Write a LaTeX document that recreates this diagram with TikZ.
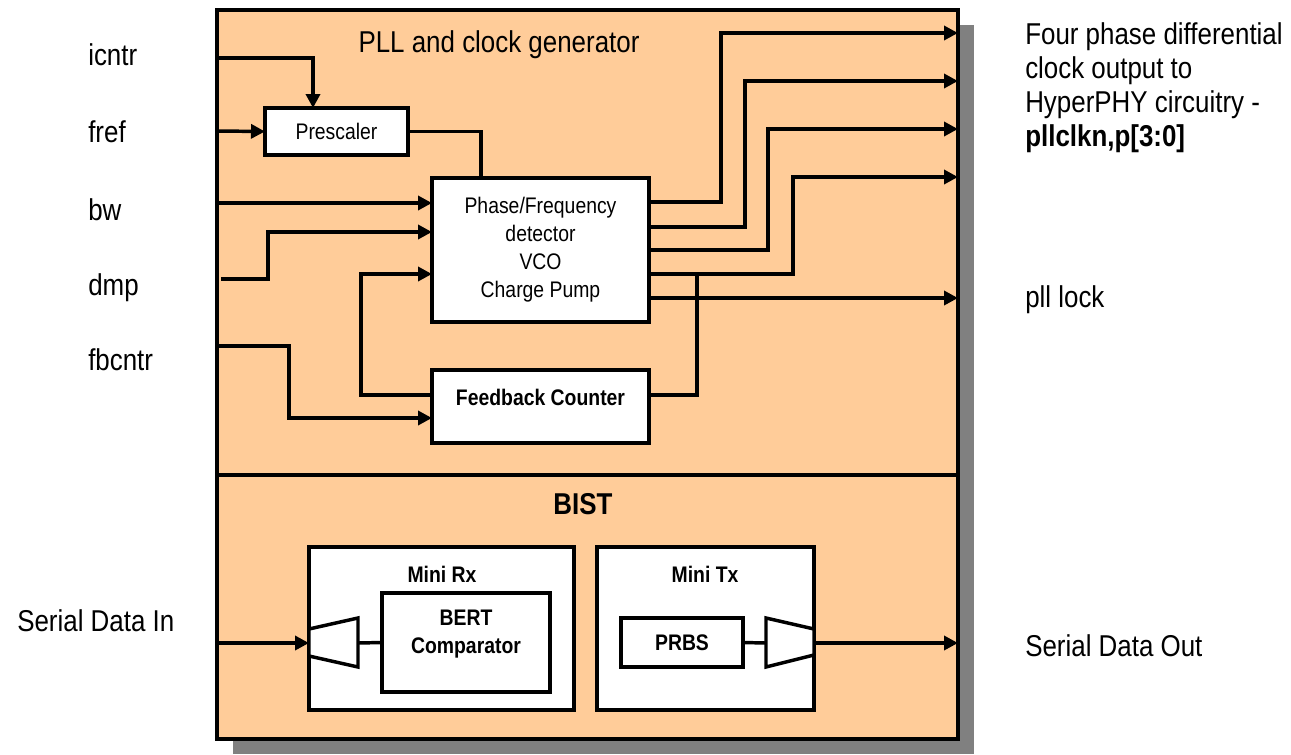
\documentclass[tikz,border=0pt]{standalone}
\usepackage{fontspec}
\setmainfont{Liberation Sans}[FakeStretch=0.86]
\usetikzlibrary{arrows.meta}
\usetikzlibrary{shadows}
\definecolor{peach}{HTML}{FFCC99}
\definecolor{shadowgray}{HTML}{808080}
\tikzset{
  wire/.style={line width=2.6pt},
  sig/.style={wire, -{Triangle[length=10.5pt,width=10.5pt]}},
  blk/.style={draw, line width=2.6pt, fill=white, inner sep=0pt, outer sep=0pt},
  sect/.style={blk, line width=3.2pt, fill=peach, drop shadow={shadow xshift=12pt, shadow yshift=-11.25pt, fill=shadowgray, opacity=1}},
  big/.style={font=\fontsize{22.6pt}{25.5pt}\selectfont, inner sep=0pt},
  bigb/.style={font=\fontsize{22.6pt}{25.5pt}\selectfont\bfseries, inner sep=0pt},
  small/.style={font=\fontsize{16.9pt}{21pt}\selectfont},
  smallb/.style={font=\fontsize{16.9pt}{21pt}\selectfont\bfseries},
}

\begin{document}
\begin{tikzpicture}[x=0.75pt,y=-0.75pt]
  \useasboundingbox (0,0) rectangle (1291,754);
  % outer sections
  \node[sect, minimum width=555.75pt, minimum height=348.75pt] (pll) at (587.5,242.5) {};
  \node[sect, minimum width=555.75pt, minimum height=198pt] (bist) at (587.5,607) {};
  \node[big, anchor=base] (plltitle) at (499,52) {PLL and clock generator};
  \node[bigb, anchor=base] (bisttitle) at (583,514) {BIST};

  % PLL blocks
  \node[blk, small, minimum width=107.25pt, minimum height=35.25pt] (psc) at (336.5,131.5) {Prescaler};
  \node[blk, small, align=center, minimum width=162.75pt, minimum height=108pt] (pfd) at (540.5,250)
    {Phase/Frequency\\detector\\VCO\\Charge Pump};
  \node[blk, minimum width=162.75pt, minimum height=54.75pt] (fbc) at (540.5,406.5) {};
  \node[smallb] (fbctext) at (540.5,397) {Feedback Counter};

  % inputs
  \node[big, anchor=base west] (icntr) at (88,65) {icntr};
  \node[big, anchor=base west] (fref) at (88,142) {fref};
  \node[big, anchor=base west] (bw) at (88,220) {bw};
  \node[big, anchor=base west] (dmp) at (88,295) {dmp};
  \node[big, anchor=base west] (fbcntr) at (88,370) {fbcntr};
  \coordinate (in1) at (217,58);
  \coordinate (in2) at (217,131);
  \coordinate (in3) at (217,203);
  \coordinate (in4) at (221,279);
  \coordinate (in5) at (217,346);
  \coordinate (in6) at (217,643);

  \draw[sig] (in1) -| ([xshift=-17.625pt]psc.north);
  \draw[sig] (in2) -- (psc.west);
  \draw[wire] (psc.east) -| ([xshift=-44.625pt]pfd.north);
  \draw[sig] (in3) -- (in3 -| pfd.west);
  \draw[sig] (in4) -- ++(47,0) |- ([yshift=13.5pt]pfd.west);
  \draw[sig] ([yshift=8.625pt]fbc.west) -- ++(-71,0) |- ([yshift=-18pt]pfd.west);
  \draw[sig] (in5) -- ++(72,0) |- ([yshift=-8.625pt]fbc.west);

  % outputs
  \coordinate (out1) at (958,33);
  \coordinate (out2) at (958,81);
  \coordinate (out3) at (958,129);
  \coordinate (out4) at (958,177);
  \coordinate (out5) at (958,298);
  \coordinate (out6) at (958,643);
  \foreach \dy/\dx/\o in {36/72/out1, 17.25/96/out2, 0/119/out3, -18/144/out4}
    \draw[sig] ([yshift=\dy pt]pfd.east) -- ++(\dx,0) |- (\o);
  \draw[sig] ([yshift=-36pt]pfd.east) -- (out5);
  \draw[wire] ([yshift=8.625pt]fbc.east) -| ([xshift=36pt,yshift=-18pt]pfd.east);

  \node[big, anchor=north west, align=left] (clkout) at (1025,22)
    {Four phase differential\\clock output to\\HyperPHY circuitry -\\\textbf{pllclkn,p[3:0]}};
  \node[big, anchor=base west] (plllock) at (1025,307) {pll lock};

  % BIST
  \node[blk, minimum width=198.75pt, minimum height=122.25pt] (rx) at (441.5,628.5) {};
  \node[blk, minimum width=162.75pt, minimum height=122.25pt] (tx) at (705.5,628.5) {};
  \node[smallb, anchor=base] (rxtitle) at (442,582) {Mini Rx};
  \node[smallb, anchor=base] (txtitle) at (705,582) {Mini Tx};
  \node[blk, minimum width=126pt, minimum height=74.25pt] (bert) at (466,642.5) {};
  \node[smallb, align=center] (berttext) at (466,634) {BERT\\Comparator};
  \node[blk, smallb, minimum width=91.5pt, minimum height=36.75pt] (prbs) at (682,642.5) {PRBS};

  \draw[wire, fill=white] (309,629) -- (358,618) -- (358,667) -- (309,656) -- cycle;
  \draw[wire, fill=white] (766,618) -- (814,629) -- (814,655) -- (766,667) -- cycle;
  \coordinate (rxamp) at (358,643);
  \coordinate (txamp) at (766,643);
  \draw[wire] (rxamp) -- (bert.west);
  \draw[wire] (prbs.east) -- (txamp);
  \draw[sig] (in6) -- (rx.west |- in6);
  \draw[sig] (tx.east |- out6) -- (out6);

  \node[big, anchor=base west] (sdin) at (17,631) {Serial Data In};
  \node[big, anchor=base west] (sdout) at (1025,656) {Serial Data Out};
\end{tikzpicture}
\end{document}
